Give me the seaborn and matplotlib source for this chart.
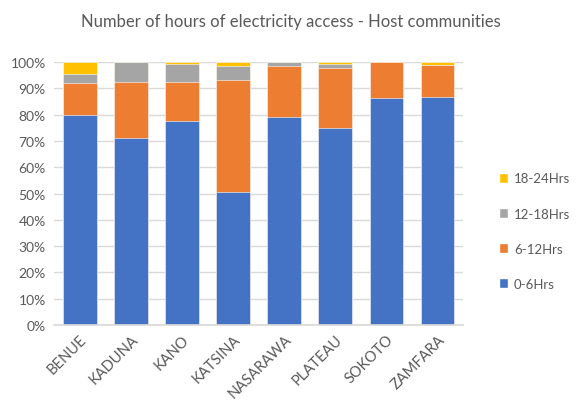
import matplotlib
matplotlib.use("Agg")
import matplotlib.pyplot as plt
from matplotlib.patches import Patch
from matplotlib.ticker import PercentFormatter
import numpy as np
import pandas as pd
import seaborn as sns

states = ["BENUE", "KADUNA", "KANO", "KATSINA", "NASARAWA", "PLATEAU", "SOKOTO", "ZAMFARA"]
hrs_0_6 = [79.8, 71.0, 77.7, 50.5, 79.0, 74.9, 86.3, 86.8]
hrs_6_12 = [12.2, 21.3, 14.9, 42.8, 19.6, 22.9, 13.7, 12.2]
hrs_12_18 = [3.3, 7.7, 6.8, 5.2, 1.4, 1.4, 0.0, 0.0]
hrs_18_24 = [4.7, 0.0, 0.6, 1.5, 0.0, 0.8, 0.0, 1.0]

bands = ["0-6Hrs", "6-12Hrs", "12-18Hrs", "18-24Hrs"]
colors = ["#4472C4", "#ED7D31", "#A5A5A5", "#FFC000"]

df = pd.DataFrame({"state": states, "0-6Hrs": hrs_0_6, "6-12Hrs": hrs_6_12,
                   "12-18Hrs": hrs_12_18, "18-24Hrs": hrs_18_24})
cum = df[bands].cumsum(axis=1)

sns.set_theme(style="white")
plt.rcParams["font.family"] = ["Lato", "DejaVu Sans"]

fig = plt.figure(figsize=(5.76, 4.10), dpi=100)
ax = fig.add_axes([0.094, 0.205, 0.710, 0.641])

# stacked bars: draw cumulative totals from the top band down
for band, color in reversed(list(zip(bands, colors))):
    sns.barplot(x=df["state"], y=cum[band], color=color, width=0.66,
                edgecolor="white", linewidth=0.4, saturation=1, ax=ax, zorder=2)

ax.set_ylim(0, 100)
ax.set_yticks(np.arange(0, 101, 10))
ax.yaxis.set_major_formatter(PercentFormatter(decimals=0))
ax.grid(axis="y", color="#D9D9D9", linewidth=1.0, zorder=0)
ax.set_axisbelow(True)
for s in ["top", "right", "left"]:
    ax.spines[s].set_visible(False)
ax.spines["bottom"].set_color("#D9D9D9")
ax.set_xlabel("")
ax.set_ylabel("")
ax.tick_params(axis="both", length=0, colors="#595959")
ax.tick_params(axis="y", pad=6, labelsize=10)
ax.tick_params(axis="x", pad=5, labelsize=10.5)
plt.setp(ax.get_xticklabels(), rotation=45, ha="right", rotation_mode="anchor")

fig.suptitle("Number of hours of electricity access - Host communities",
             x=0.505, y=0.965, fontsize=12, color="#595959")

handles = [Patch(facecolor=c, label=b) for b, c in zip(bands, colors)][::-1]
leg = fig.legend(handles=handles, loc="center left", bbox_to_anchor=(0.845, 0.434),
                 frameon=False, fontsize=9.5, labelspacing=1.75,
                 handlelength=0.75, handleheight=0.75, handletextpad=0.4)
for t in leg.get_texts():
    t.set_color("#595959")

fig.savefig("out.png", dpi=100)
